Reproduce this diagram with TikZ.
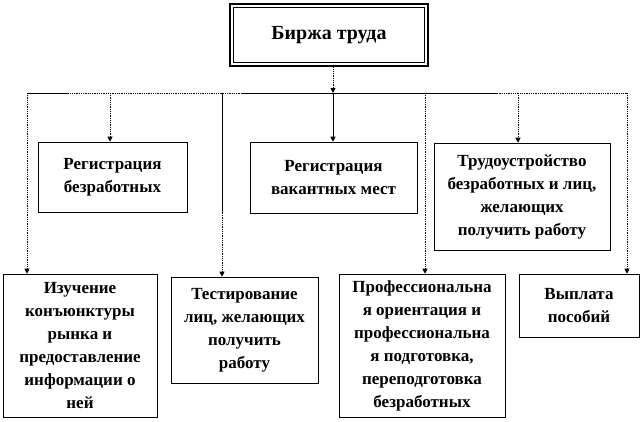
\documentclass[tikz,border=0pt]{standalone}
\usepackage{fontspec}
\setmainfont{Liberation Serif}
\usetikzlibrary{arrows.meta}
\begin{document}
\begin{tikzpicture}[x=1pt,y=-1pt,
  box/.style={draw, line width=0.6pt, align=center, inner sep=0pt,
    font=\bfseries\fontsize{17}{23}\selectfont},
  dotline/.style={densely dotted, line width=0.8pt},
  solline/.style={line width=0.8pt},
  tip/.style={-{Triangle[length=5pt,width=5pt]}}]
\useasboundingbox (0,0) rectangle (642,421);
% top box
\node[box, draw=none, minimum width=200pt, minimum height=64pt, font=\bfseries\fontsize{20}{24}\selectfont] (top) at (329,35) {Биржа труда};
\draw[line width=2.4pt] ([shift={(1.2pt,-1.2pt)}]top.north west) rectangle ([shift={(-1.2pt,1.2pt)}]top.south east);
\draw[line width=0.8pt] ([shift={(4.5pt,-4.5pt)}]top.north west) rectangle ([shift={(-4.5pt,4.5pt)}]top.south east);
% second row
\node[box, minimum width=149pt, minimum height=70pt] (reg1) at (112.5,177) {Регистрация\\безработных};
\node[box, minimum width=167pt, minimum height=71pt] (reg2) at (333.5,177.5) {Регистрация\\вакантных мест};
\node[box, minimum width=176pt, minimum height=107pt] (trud) at (522,196.5) {Трудоустройство\\безработных и лиц,\\желающих\\получить работу};
% third row
\node[box, minimum width=154pt, minimum height=143pt] (izu) at (80,345.5) {Изучение\\конъюнктуры\\рынка и\\предоставление\\информации о\\ней};
\node[box, minimum width=147pt, minimum height=106pt] (test) at (244.5,330) {Тестирование\\лиц, желающих\\получить\\работу};
\node[box, minimum width=166pt, minimum height=143pt] (prof) at (422,345.5) {Профессиональна\\я ориентация и\\профессиональна\\я подготовка,\\переподготовка\\безработных};
\node[box, minimum width=120pt, minimum height=63pt] (vypl) at (579,305.5) {Выплата\\пособий};
% bus coordinates
\coordinate (b1) at (27,93);
\coordinate (b2) at (110,93);
\coordinate (b3) at (222,93);
\coordinate (b4) at (333,93);
\coordinate (b5) at (425,93);
\coordinate (b6) at (518,93);
\coordinate (b7) at (627,93);
\coordinate (b3m) at (222,213);
\coordinate (s1) at (68,93);
\coordinate (s2) at (242,93);
\coordinate (s3) at (498,93);
% connectors
\draw[dotline, tip] (b4 |- top.south) -- (b4);
\draw[dotline] (b1) -- (b7);
\draw[solline] (b1) -- (s1);
\draw[solline] (s2) -- (s3);
\draw[dotline, tip] (b1) -- (b1 |- izu.north);
\draw[dotline, tip] (b2) -- (b2 |- reg1.north);
\draw[solline] (b3) -- (b3m);
\draw[dotline, tip] (b3m) -- (b3 |- test.north);
\draw[solline, tip] (b4) -- (b4 |- reg2.north);
\draw[dotline, tip] (b5) -- (b5 |- prof.north);
\draw[dotline, tip] (b6) -- (b6 |- trud.north);
\draw[dotline, tip] (b7) -- (b7 |- vypl.north);
\end{tikzpicture}
\end{document}
